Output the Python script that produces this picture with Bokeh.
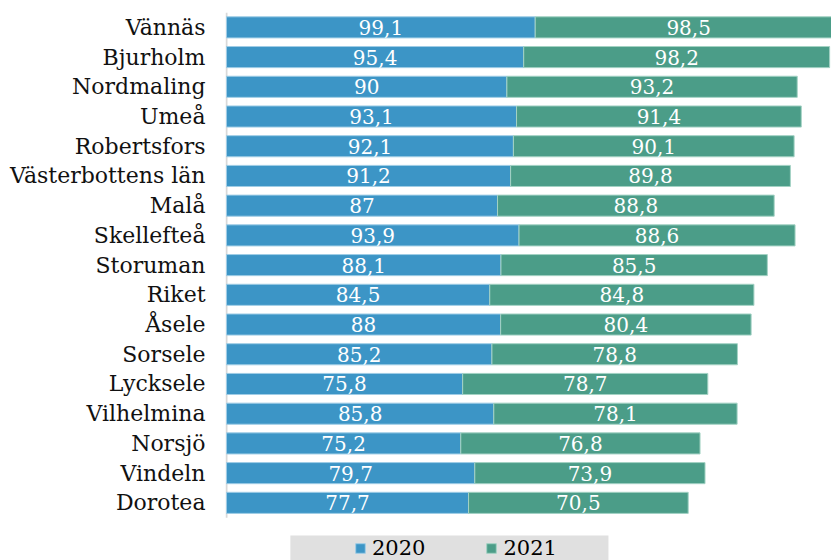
from bokeh.plotting import figure
from bokeh.models import (Range1d, ColumnDataSource, Legend, LegendItem,
                          BoxAnnotation, FixedTicker)
from bokeh.core.properties import value
from bokeh.embed import file_html
from bokeh.resources import INLINE

categories = ["Vännäs", "Bjurholm", "Nordmaling", "Umeå", "Robertsfors",
              "Västerbottens län", "Malå", "Skellefteå", "Storuman", "Riket",
              "Åsele", "Sorsele", "Lycksele", "Vilhelmina", "Norsjö", "Vindeln", "Dorotea"]
v2020 = [99.1, 95.4, 90, 93.1, 92.1, 91.2, 87, 93.9, 88.1, 84.5, 88, 85.2, 75.8, 85.8, 75.2, 79.7, 77.7]
v2021 = [98.5, 98.2, 93.2, 91.4, 90.1, 89.8, 88.8, 88.6, 85.5, 84.8, 80.4, 78.8, 78.7, 78.1, 76.8, 73.9, 70.5]
series_names = ["2020", "2021"]

BLUE = "#3c95c6"
GREEN = "#4b9d88"
FONT = "DejaVu Serif"

def fmt(v):
    return f"{v:g}".replace(".", ",")

n = len(categories)
pos = [n - 1 - i for i in range(n)]

data = dict(
    y=pos,
    a_end=list(v2020),
    b_end=[x + y for x, y in zip(v2020, v2021)],
    zero=[0] * n,
    a_mid=[x / 2 for x in v2020],
    b_mid=[x + y / 2 for x, y in zip(v2020, v2021)],
    a_lab=[fmt(x) for x in v2020],
    b_lab=[fmt(x) for x in v2021],
)
src = ColumnDataSource(data)

top = n - 0.5
bottom = top - 18.44

p = figure(width=831, height=560, output_backend="svg", toolbar_location=None,
           y_range=Range1d(bottom, top), x_range=Range1d(-0.32, 194.2))
p.min_border_left = 225
p.min_border_right = 0
p.min_border_top = 12
p.min_border_bottom = 0
p.outline_line_color = None
p.xgrid.visible = False
p.ygrid.visible = False
p.xaxis.visible = False
p.background_fill_color = "white"
p.border_fill_color = "white"

# category axis line
p.segment(x0=[0], y0=[-0.5], x1=[0], y1=[n - 0.5], line_color="#d9d9d9", line_width=2)

r1 = p.hbar(y="y", left="zero", right="a_end", height=0.71, source=src,
            fill_color=BLUE, line_color="#9fcde6", line_width=1)
r2 = p.hbar(y="y", left="a_end", right="b_end", height=0.71, source=src,
            fill_color=GREEN, line_color="#a3d2c4", line_width=1)

p.text(x="a_mid", y="y", text="a_lab", source=src, text_color="white",
       text_font=value(FONT), text_font_size="20px", text_align="center",
       text_baseline="middle")
p.text(x="b_mid", y="y", text="b_lab", source=src, text_color="white",
       text_font=value(FONT), text_font_size="20px", text_align="center",
       text_baseline="middle")

ax = p.yaxis[0]
ax.ticker = FixedTicker(ticks=pos)
ax.major_label_overrides = {p_: c for p_, c in zip(pos, categories)}
ax.axis_line_color = None
ax.major_tick_line_color = None
ax.minor_tick_line_color = None
ax.major_label_standoff = 14
ax.major_label_text_font = FONT
ax.major_label_text_font_size = "22px"
ax.major_label_text_color = "#111111"

# grey legend band
band = BoxAnnotation(left=20.5, right=122.6, top=-1.10, bottom=bottom - 1,
                     fill_color="#e0e0e0", fill_alpha=1, line_color=None,
                     level="underlay")
p.add_layout(band)

legend = Legend(items=[LegendItem(label=series_names[0], renderers=[r1]),
                       LegendItem(label=series_names[1], renderers=[r2])],
                orientation="horizontal", location=(129, 0),
                background_fill_alpha=0, border_line_color=None,
                label_text_font=FONT, label_text_font_size="21px",
                label_text_color="black", glyph_width=12, glyph_height=12,
                label_standoff=6, spacing=60, padding=0, margin=0)
p.add_layout(legend, "center")

open("out.html", "w").write(file_html(p, INLINE))
